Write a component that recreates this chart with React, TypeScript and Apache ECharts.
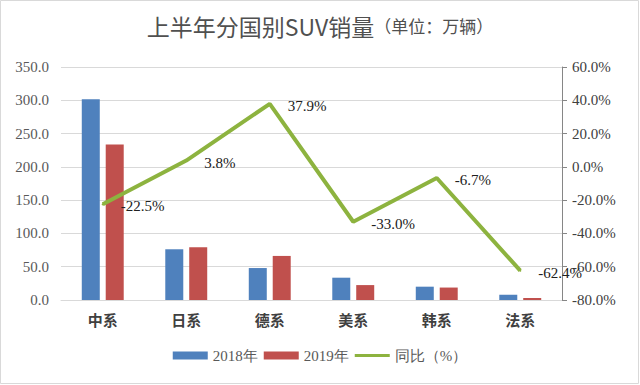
import React, { useEffect, useRef } from "react";
import * as echarts from "echarts";

const categories = ["中系", "日系", "德系", "美系", "韩系", "法系"];
const sales2018 = [301.5, 76.2, 48.0, 33.5, 20.0, 8.0];
const sales2019 = [233.4, 79.1, 66.2, 22.4, 18.7, 3.0];
const yoy = [-22.5, 3.8, 37.9, -33.0, -6.7, -62.4];
const leftTicks = { min: 0, max: 350, interval: 50 };
const rightTicks = { min: -80, max: 60, interval: 20 };

const serifFont = "Liberation Serif";
const cjkFont = "Noto Sans CJK SC";

export default function App() {
  const ref = useRef<HTMLDivElement>(null);
  useEffect(() => {
    if (!ref.current) return;
    const chart = echarts.init(ref.current, undefined, { renderer: "svg" });
    chart.setOption({
      animation: false,
      backgroundColor: "#ffffff",
      title: {
        text: "{a|上半年分国别SUV销量}{b|（单位：万辆）}",
        left: "center",
        top: 9,
        textStyle: {
          fontWeight: "normal",
          rich: {
            a: { fontFamily: cjkFont, fontSize: 23, fontWeight: "normal", color: "#505050" },
            b: { fontFamily: cjkFont, fontSize: 17, fontWeight: "normal", color: "#505050" },
          },
        },
      },
      graphic: [
        {
          type: "rect",
          shape: { x: 0.5, y: 0.5, width: 638, height: 383 },
          style: { fill: "none", stroke: "#d9d9d9", lineWidth: 1 },
          silent: true,
        },
      ],
      legend: {
        bottom: 17,
        left: "center",
        itemWidth: 35,
        itemHeight: 8,
        itemGap: 6,
        textStyle: { fontFamily: serifFont, fontSize: 15, color: "#595959" },
        data: [
          { name: "2018年", icon: "rect" },
          { name: "2019年", icon: "rect" },
          { name: "同比（%）", icon: "path://M0,0 L35,0 L35,3 L0,3 Z", itemStyle: { color: "#8db33f" } },
        ],
      },
      grid: { left: 61, right: 78, top: 67, bottom: 85, containLabel: false },
      xAxis: {
        type: "category",
        data: categories,
        axisLine: { lineStyle: { color: "#d9d9d9" } },
        axisTick: { show: false },
        axisLabel: {
          fontFamily: cjkFont,
          fontSize: 15,
          fontWeight: "bold",
          color: "#404040",
          margin: 12,
        },
      },
      yAxis: [
        {
          type: "value",
          min: leftTicks.min,
          max: leftTicks.max,
          interval: leftTicks.interval,
          axisLine: { show: false },
          axisTick: { show: false },
          splitLine: { lineStyle: { color: "#d9d9d9" } },
          axisLabel: {
            fontFamily: serifFont,
            fontSize: 15,
            color: "#595959",
            margin: 12,
            formatter: (v: number) => v.toFixed(1),
          },
        },
        {
          type: "value",
          min: rightTicks.min,
          max: rightTicks.max,
          interval: rightTicks.interval,
          position: "right",
          axisLine: { show: true, lineStyle: { color: "#868686" } },
          axisTick: { show: true, length: 5, lineStyle: { color: "#868686" } },
          splitLine: { show: false },
          axisLabel: {
            fontFamily: serifFont,
            fontSize: 15,
            color: "#404040",
            margin: 10,
            formatter: (v: number) => v.toFixed(1) + "%",
          },
        },
      ],
      series: [
        {
          name: "2018年",
          type: "bar",
          data: sales2018,
          barWidth: 18,
          barGap: "33%",
          itemStyle: { color: "#4f81bd" },
        },
        {
          name: "2019年",
          type: "bar",
          data: sales2019,
          barWidth: 18,
          itemStyle: { color: "#c0504d" },
        },
        {
          name: "同比（%）",
          type: "line",
          yAxisIndex: 1,
          data: yoy,
          symbol: "circle",
          symbolSize: 2,
          showSymbol: true,
          lineStyle: { color: "#8db33f", width: 4 },
          itemStyle: { color: "#8db33f" },
          z: 5,
          label: {
            show: true,
            position: "right",
            distance: 17,
            offset: [0, 2],
            fontFamily: serifFont,
            fontSize: 15,
            color: "#202020",
            formatter: (p: any) => Number(p.value).toFixed(1) + "%",
          },
        },
      ],
    });
    return () => chart.dispose();
  }, []);
  return (
    <div
      ref={ref}
      style={{ position: "fixed", left: 0, top: 0, width: 640, height: 385 }}
    />
  );
}
